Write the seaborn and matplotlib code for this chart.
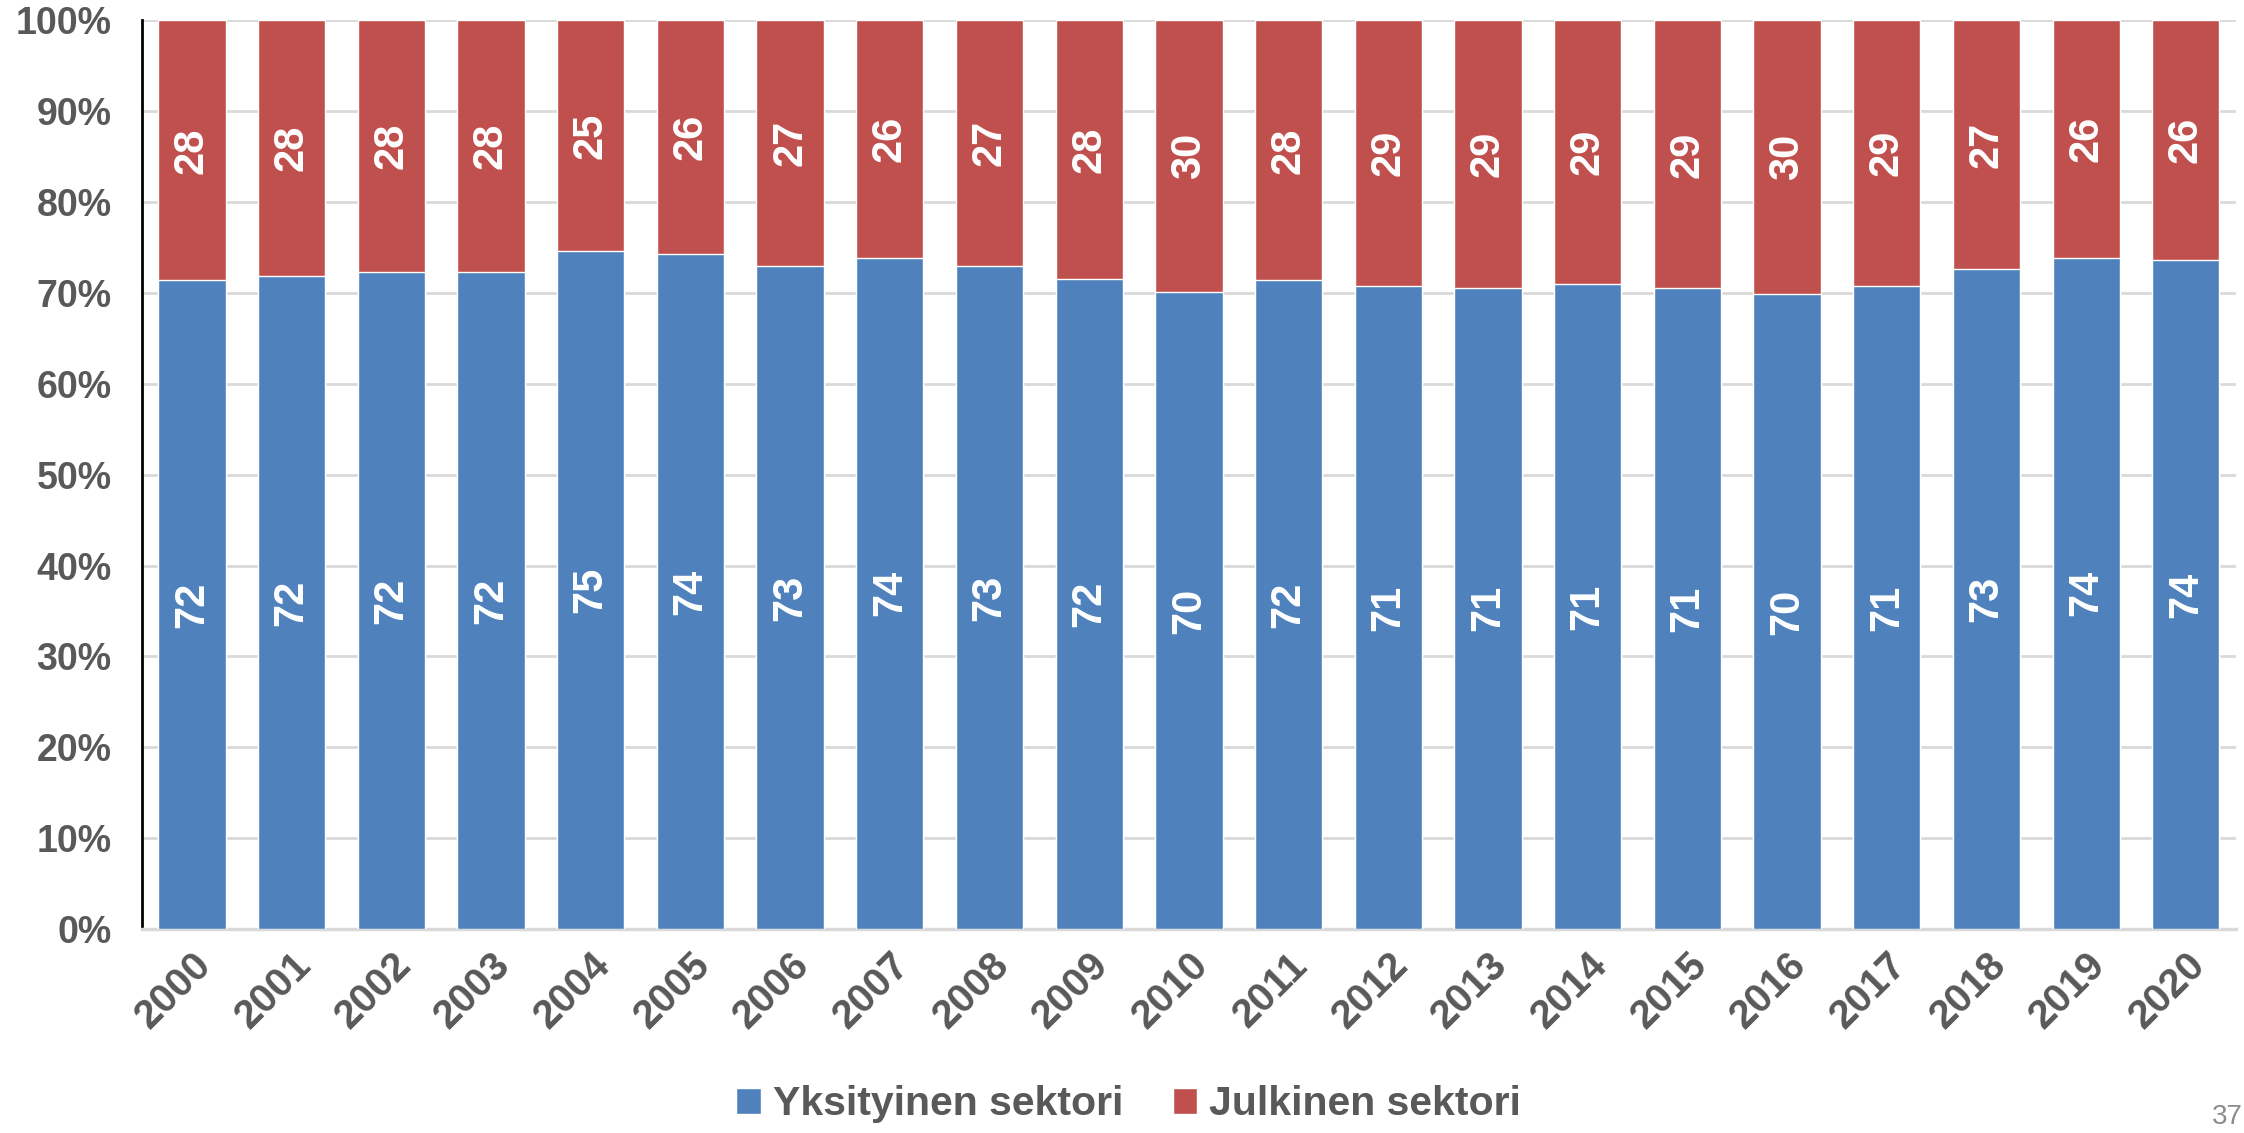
import numpy as np
import pandas as pd
import matplotlib.pyplot as plt
import seaborn as sns
from matplotlib.patches import Patch

# data
years = [str(y) for y in range(2000, 2021)]
yksityinen = [71.4, 71.9, 72.3, 72.3, 74.6, 74.3, 73.0, 73.9, 73.0, 71.5, 70.1,
              71.4, 70.8, 70.6, 71.0, 70.5, 69.9, 70.8, 72.6, 73.9, 73.6]
julkinen = [100 - v for v in yksityinen]
yks_labels = [72, 72, 72, 72, 75, 74, 73, 74, 73, 72, 70, 72, 71, 71, 71, 71, 70, 71, 73, 74, 74]
jul_labels = [28, 28, 28, 28, 25, 26, 27, 26, 27, 28, 30, 28, 29, 29, 29, 29, 30, 29, 27, 26, 26]

df = pd.DataFrame({'vuosi': years, 'yks': yksityinen, 'jul': julkinen})
df['yht'] = df['yks'] + df['jul']

sns.set_style('white')
plt.rcParams['font.family'] = ['Liberation Sans', 'DejaVu Sans']

sininen = '#4F81BD'
punainen = '#C0504D'
harmaa = '#595959'

fig = plt.figure(figsize=(22.44, 11.33), dpi=100)
ax = fig.add_axes([0.0633, 0.180, 0.933, 0.802])

# pinottu: ensin kokonaispalkki punaisena, sitten sininen päälle
sns.barplot(data=df, x='vuosi', y='yht', color=punainen, width=0.675,
            saturation=1, ax=ax, zorder=2)
sns.barplot(data=df, x='vuosi', y='yks', color=sininen, width=0.675,
            saturation=1, ax=ax, zorder=3)

# arvot palkkeihin
for i in range(len(years)):
    ax.text(i, yksityinen[i] / 2, str(yks_labels[i]), rotation=90, color='white',
            fontsize=30, fontweight='bold', ha='center', va='center', zorder=4)
    ax.text(i, yksityinen[i] + julkinen[i] / 2, str(jul_labels[i]), rotation=90,
            color='white', fontsize=30, fontweight='bold', ha='center', va='center', zorder=4)

ax.set_ylim(0, 100)
ax.set_xlim(-0.5, len(years) - 0.5)
ax.set_yticks(range(0, 101, 10))
ax.set_yticklabels([f'{v}%' for v in range(0, 101, 10)])
ax.set_xlabel('')
ax.set_ylabel('')
ax.grid(axis='y', color='#D9D9D9', linewidth=2, zorder=0)
ax.set_axisbelow(True)

for s in ['top', 'right']:
    ax.spines[s].set_visible(False)
ax.spines['left'].set_color('black')
ax.spines['left'].set_linewidth(2)
ax.spines['bottom'].set_color('#D9D9D9')
ax.spines['bottom'].set_linewidth(2.5)

ax.tick_params(axis='y', length=0, pad=22, labelsize=27, labelcolor=harmaa)
ax.tick_params(axis='x', length=0, pad=12, labelsize=29, labelcolor=harmaa)
for t in ax.get_yticklabels():
    t.set_fontweight('bold')
for t in ax.get_xticklabels():
    t.set_fontweight('bold')
    t.set_rotation(45)
    t.set_ha('right')
    t.set_va('top')
    t.set_rotation_mode('anchor')

# selite
kahvat = [Patch(facecolor=sininen, label='Yksityinen sektori'),
          Patch(facecolor=punainen, label='Julkinen sektori')]
fig.legend(handles=kahvat, loc='lower center', bbox_to_anchor=(0.503, -0.024), ncol=2,
           frameon=False, handlelength=0.6, handleheight=0.6, handletextpad=0.3,
           columnspacing=1.2, prop={'size': 29.5, 'weight': 'bold'}, labelcolor=harmaa)

fig.text(0.9995, 0.008, '37', color='#8C8C8C', fontsize=20, ha='right')

plt.savefig('out.png', dpi=100)
